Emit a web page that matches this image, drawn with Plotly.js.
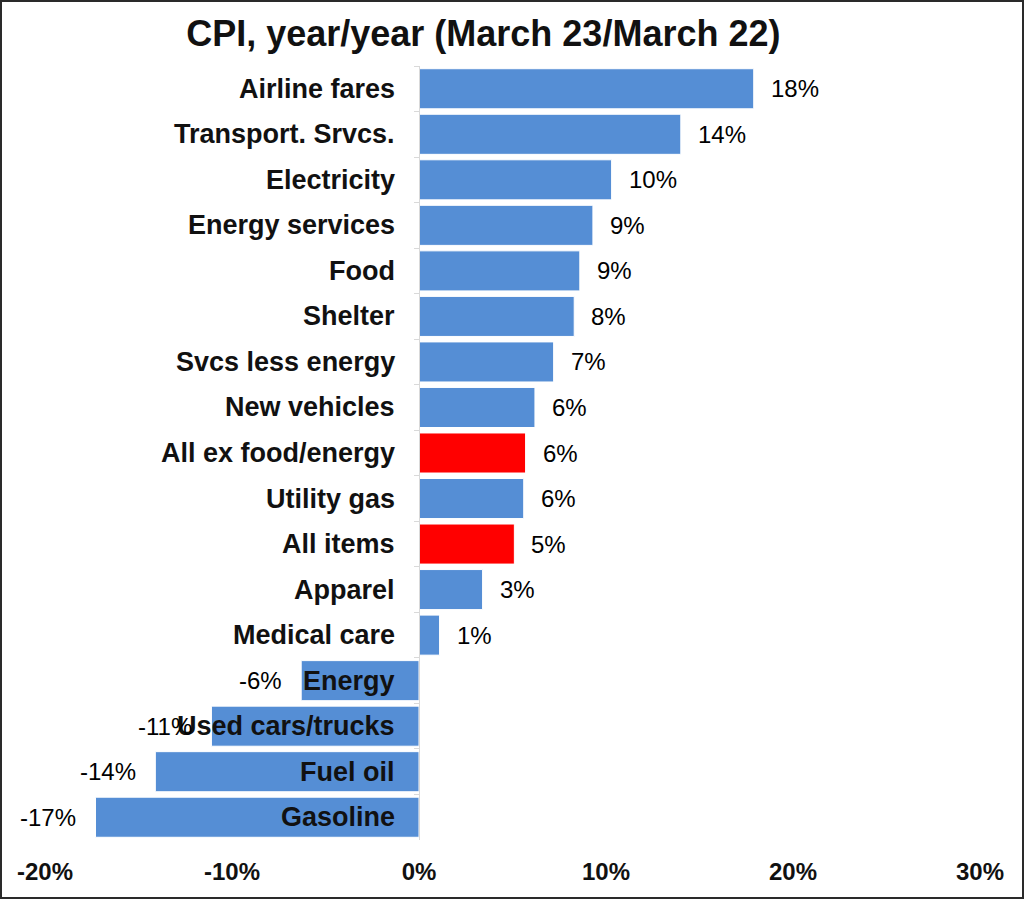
<!DOCTYPE html>
<html>
<head>
<meta charset="utf-8">
<script src="https://cdn.plot.ly/plotly-3.0.1.min.js"></script>
<style>
  html, body { margin: 0; padding: 0; background: #fff; }
  #chart { width: 1024px; height: 899px; }
  #frame { position: absolute; left: 0; top: 0; width: 1024px; height: 899px; box-sizing: border-box; border: 2px solid #2a2a2a; pointer-events: none; }
</style>
</head>
<body>
<div id="chart"></div>
<div id="frame"></div>
<script>
// Data (top to bottom as shown)
const categories = ["Airline fares", "Transport. Srvcs.", "Electricity", "Energy services", "Food", "Shelter",
  "Svcs less energy", "New vehicles", "All ex food/energy", "Utility gas", "All items", "Apparel",
  "Medical care", "Energy", "Used cars/trucks", "Fuel oil", "Gasoline"];
const values = [17.9, 14.0, 10.3, 9.3, 8.6, 8.3, 7.2, 6.2, 5.7, 5.6, 5.1, 3.4, 1.1, -6.3, -11.1, -14.1, -17.3];
const valueLabels = ["18%", "14%", "10%", "9%", "9%", "8%", "7%", "6%", "6%", "6%", "5%", "3%", "1%", "-6%", "-11%", "-14%", "-17%"];
const highlighted = ["All ex food/energy", "All items"];
const xTickVals = [-20, -10, 0, 10, 20, 30];
const xTickText = ["-20%", "-10%", "0%", "10%", "20%", "30%"];

const BLUE = "#558ED5";
const RED = "#FF0000";
const FONT = "Liberation Sans, Arial, sans-serif";

const colors = categories.map(c => highlighted.includes(c) ? RED : BLUE);

const trace = {
  type: "bar",
  orientation: "h",
  y: categories,
  x: values,
  marker: { color: colors, line: { color: "#ffffff", width: 1 } },
  hoverinfo: "x+y"
};

const annotations = [];
categories.forEach((c, i) => {
  annotations.push({
    x: 0, y: c, xref: "x", yref: "y",
    text: "<b>" + c + "</b>",
    showarrow: false, xanchor: "right", yanchor: "middle", xshift: -22,
    font: { family: FONT, size: 27, color: "#111" }
  });
  const v = values[i];
  annotations.push({
    x: v, y: c, xref: "x", yref: "y",
    text: valueLabels[i],
    showarrow: false, xanchor: v >= 0 ? "left" : "right", yanchor: "middle",
    xshift: v >= 0 ? 15 : -17,
    font: { family: FONT, size: 24, color: "#000" }
  });
});

const layout = {
  width: 1024, height: 899,
  margin: { l: 45, r: 44, t: 66, b: 59 },
  paper_bgcolor: "#ffffff", plot_bgcolor: "#ffffff",
  showlegend: false,
  bargap: 0.12,
  title: {
    text: "<b>CPI, year/year (March 23/March 22)</b>",
    font: { family: FONT, size: 36, color: "#111" },
    x: 0.472, xref: "container", xanchor: "center",
    y: 0.963, yref: "container", yanchor: "middle"
  },
  xaxis: {
    range: [-20, 30],
    tickvals: xTickVals, ticktext: xTickText,
    showgrid: false, zeroline: false, showline: false,
    ticks: "", ticklabelstandoff: 15,
    tickfont: { family: FONT, size: 24, color: "#111", weight: "bold" },
    fixedrange: true
  },
  yaxis: {
    autorange: "reversed",
    type: "category",
    showticklabels: false,
    showgrid: false, zeroline: false,
    showline: true, linecolor: "#d9d9d9", linewidth: 1,
    ticks: "outside", tickson: "boundaries", ticklen: 5, tickcolor: "#d9d9d9",
    anchor: "free", position: 0.4,
    fixedrange: true
  },
  annotations: annotations
};

Plotly.newPlot("chart", [trace], layout, { displayModeBar: false, staticPlot: true });
</script>
</body>
</html>
